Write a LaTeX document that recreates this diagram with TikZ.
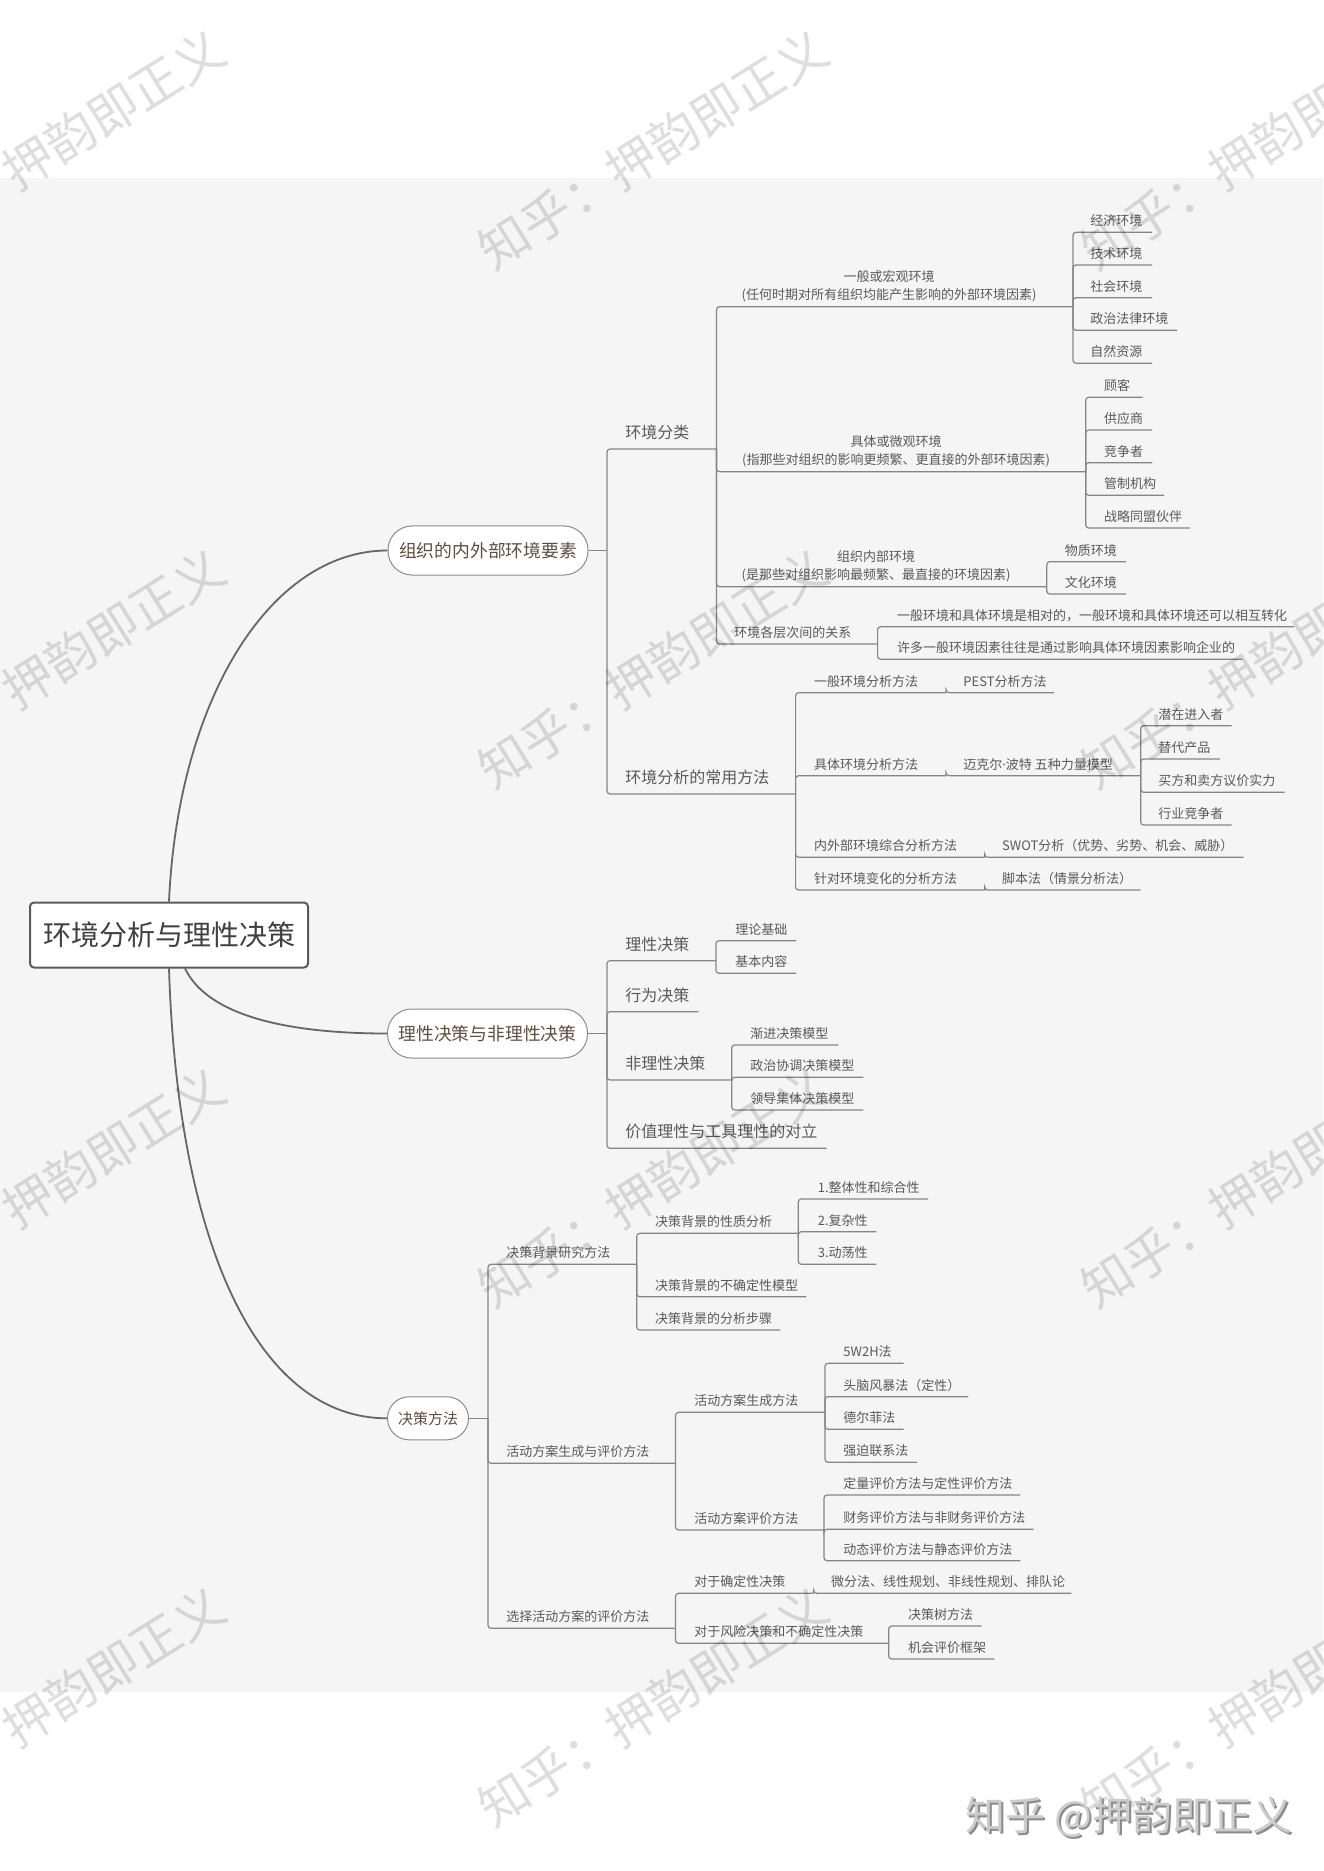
\documentclass[tikz,border=0pt]{standalone}
\usepackage{fontspec}
\setmainfont{Noto Sans CJK SC}
\newfontfamily\latinfont{Noto Sans}
\definecolor{bgc}{HTML}{F5F5F5}
\definecolor{txtc}{HTML}{595959}
\definecolor{pilltxt}{HTML}{5E4F3F}
\definecolor{pillc}{HTML}{8C8C8C}
\definecolor{linec}{HTML}{858585}
\definecolor{curvec}{HTML}{666666}
\definecolor{rootc}{HTML}{5A5A5A}
\definecolor{roottxt}{HTML}{404040}
\tikzset{
  txt/.style={inner sep=0pt, text=txtc, anchor=base west},
  smalltxt/.style={txt, font=\fontsize{6.5pt}{8.65pt}\selectfont},
  medtxt/.style={txt, font=\fontsize{8pt}{9.6pt}\selectfont},
  pill/.style={draw=pillc, fill=white, rounded corners=12pt, line width=0.5pt,
    text=pilltxt, minimum height=24.5pt, inner xsep=5.5pt, inner ysep=0pt,
    font=\fontsize{8.9pt}{10pt}\selectfont},
  pillsmall/.style={rounded corners=10.75pt, minimum height=21.5pt, inner xsep=5.25pt,
    font=\fontsize{7.5pt}{9pt}\selectfont},
  rootbox/.style={draw=rootc, line width=1pt, fill=white, rounded corners=2pt,
    minimum width=139pt, minimum height=32.5pt, inner sep=0pt,
    font=\fontsize{14pt}{16pt}\selectfont, text=roottxt},
  br/.style={draw=linec, line width=0.6pt, rounded corners=1.5pt},
  curve/.style={draw=curvec, line width=0.9pt},
  wm/.style={anchor=base west, rotate=32, inner sep=0pt,
    font=\fontsize{25pt}{25pt}\selectfont, text=black, text opacity=0.13},
}
% small text node: name, text x, underline y, underline end x, text
\newcommand\mmS[5]{\node[smalltxt] (#1) at ({#2},{#3-6.5}) {#5}; \coordinate (#1-e) at ({#4},{#3});}
% medium text node
\newcommand\mmM[5]{\node[medtxt] (#1) at ({#2},{#3-10.5}) {#5}; \coordinate (#1-e) at ({#4},{#3});}
% two-line centred small node: name, centre x, underline y, underline end x, text
\newcommand\mmT[5]{\node[smalltxt, anchor=south, align=center] (#1) at ({#2},{#3-4.5}) {#5}; \coordinate (#1-e) at ({#4},{#3});}
% connector parent -> child
\newcommand\mmL[2]{\draw[br] (#1-e) |- (#2-e);}

\begin{document}
\begin{tikzpicture}[x=0.5pt,y=-0.5pt]
\useasboundingbox (0,0) rectangle (1323,1871);
\fill[white] (0,0) rectangle (1323,1871);
\fill[bgc] (0,178) rectangle (1323,1692);

% ---------- root and main branches ----------
\coordinate (Rc) at (169,935);
\coordinate (Ac) at (488,550.5);
\coordinate (Bc) at (487.5,1033.5);
\coordinate (Cc) at (428,1418.3);
\path (Rc) node[rootbox, draw=none, fill=none, text opacity=0] (R) {环境分析与理性决策};
\path (Ac) node[pill, draw=none, fill=none, text opacity=0] (A) {组织的内外部环境要素};
\path (Bc) node[pill, draw=none, fill=none, text opacity=0] (B) {理性决策与非理性决策};
\path (Cc) node[pill, pillsmall, draw=none, fill=none, text opacity=0] (C) {决策方法};

\draw[curve] (R.north) .. controls (178,700) and (270,550.5) .. (A.west);
\draw[curve] ([xshift=8pt]R.south) .. controls (210,1020) and (300,1033.5) .. (B.west);
\draw[curve] (R.south) .. controls (178,1250) and (260,1418.3) .. (C.west);

\node[rootbox] (Rv) at (Rc) {环境分析与理性决策};
\node[pill] (Av) at (Ac) {组织的内外部环境要素};
\node[pill] (Bv) at (Bc) {理性决策与非理性决策};
\node[pill, pillsmall] (Cv) at (Cc) {决策方法};

\coordinate (A-e) at (607,550.5);
\coordinate (B-e) at (607,1033.5);
\coordinate (C-e) at (488,1418.3);
\draw[br] (A.east) -- (A-e);
\draw[br] (B.east) -- (B-e);
\draw[br] (C.east) -- (C-e);

% ---------- branch A ----------
\mmM{a1}{625}{449}{716.5}{环境分类}
\mmM{a2}{625}{794}{795.6}{环境分析的常用方法}
\mmL{A}{a1} \mmL{A}{a2}

\mmT{a11}{889}{306.7}{1073}{一般或宏观环境\\(任何时期对所有组织均能产生影响的外部环境因素)}
\mmT{a12}{896}{471.7}{1085.7}{具体或微观环境\\(指那些对组织的影响更频繁、更直接的外部环境因素)}
\mmT{a13}{876}{586.7}{1046.8}{组织内部环境\\(是那些对组织影响最频繁、最直接的环境因素)}
\mmS{a14}{734}{644}{877.6}{环境各层次间的关系}
\mmL{a1}{a11} \mmL{a1}{a12} \mmL{a1}{a13} \mmL{a1}{a14}

\mmS{a111}{1090}{232.3}{1152}{经济环境}
\mmS{a112}{1090}{265}{1152}{技术环境}
\mmS{a113}{1090}{297.7}{1152}{社会环境}
\mmS{a114}{1090}{330.3}{1177}{政治法律环境}
\mmS{a115}{1090}{363.3}{1152}{自然资源}
\mmL{a11}{a111} \mmL{a11}{a112} \mmL{a11}{a113} \mmL{a11}{a114} \mmL{a11}{a115}

\mmS{a121}{1103.7}{397.3}{1142.6}{顾客}
\mmS{a122}{1103.7}{430}{1152}{供应商}
\mmS{a123}{1103.7}{462.7}{1152}{竞争者}
\mmS{a124}{1103.7}{495.3}{1164}{管制机构}
\mmS{a125}{1103.7}{528}{1190}{战略同盟伙伴}
\mmL{a12}{a121} \mmL{a12}{a122} \mmL{a12}{a123} \mmL{a12}{a124} \mmL{a12}{a125}

\mmS{a131}{1064.4}{561.7}{1126}{物质环境}
\mmS{a132}{1064.4}{594}{1126}{文化环境}
\mmL{a13}{a131} \mmL{a13}{a132}

\mmS{a141}{896.6}{626.7}{1294}{一般环境和具体环境是相对的，一般环境和具体环境还可以相互转化}
\mmS{a142}{896.6}{659.3}{1242}{许多一般环境因素往往是通过影响具体环境因素影响企业的}
\mmL{a14}{a141} \mmL{a14}{a142}

\mmS{a21}{813.6}{692.7}{946}{一般环境分析方法}
\mmS{a22}{813.6}{775.7}{946}{具体环境分析方法}
\mmS{a23}{813.6}{857.3}{984.8}{内外部环境综合分析方法}
\mmS{a24}{813.6}{890}{984.8}{针对环境变化的分析方法}
\mmL{a2}{a21} \mmL{a2}{a22} \mmL{a2}{a23} \mmL{a2}{a24}

\mmS{a211}{963}{692.7}{1054}{PEST分析方法}
\mmS{a221}{963}{775.7}{1140.7}{迈克尔{\latinfont ·}波特 五种力量模型}
\mmS{a231}{1001.8}{857.3}{1243.5}{SWOT分析（优势、劣势、机会、威胁）}
\mmS{a241}{1001.8}{890}{1140.7}{脚本法（情景分析法）}
\mmL{a21}{a211} \mmL{a22}{a221} \mmL{a23}{a231} \mmL{a24}{a241}

\mmS{a2211}{1158}{725.7}{1231.7}{潜在进入者}
\mmS{a2212}{1158}{759}{1219.8}{替代产品}
\mmS{a2213}{1158}{792.3}{1284.7}{买方和卖方议价实力}
\mmS{a2214}{1158}{825}{1231.7}{行业竞争者}
\mmL{a221}{a2211} \mmL{a221}{a2212} \mmL{a221}{a2213} \mmL{a221}{a2214}

% ---------- branch B ----------
\mmM{b1}{625}{960.7}{716}{理性决策}
\mmM{b2}{625}{1011.7}{698.3}{行为决策}
\mmM{b3}{625}{1080}{731.7}{非理性决策}
\mmM{b4}{625}{1148.3}{826.7}{价值理性与工具理性的对立}
\mmL{B}{b1} \mmL{B}{b2} \mmL{B}{b3} \mmL{B}{b4}

\mmS{b11}{735}{940.7}{796}{理论基础}
\mmS{b12}{735}{973.3}{796}{基本内容}
\mmL{b1}{b11} \mmL{b1}{b12}

\mmS{b31}{750}{1045}{838.3}{渐进决策模型}
\mmS{b32}{750}{1077.3}{863.3}{政治协调决策模型}
\mmS{b33}{750}{1110}{863.3}{领导集体决策模型}
\mmL{b3}{b31} \mmL{b3}{b32} \mmL{b3}{b33}

% ---------- branch C ----------
\mmS{c1}{506}{1264.3}{636.7}{决策背景研究方法}
\mmS{c2}{506}{1463.3}{675.5}{活动方案生成与评价方法}
\mmS{c3}{506}{1628.3}{675.5}{选择活动方案的评价方法}
\mmL{C}{c1} \mmL{C}{c2} \mmL{C}{c3}

\mmS{c11}{654.6}{1233.3}{798.3}{决策背景的性质分析}
\mmS{c12}{654.6}{1296.7}{806.3}{决策背景的不确定性模型}
\mmS{c13}{654.6}{1330}{780.4}{决策背景的分析步骤}
\mmL{c1}{c11} \mmL{c1}{c12} \mmL{c1}{c13}

\mmS{c111}{817.5}{1199}{928.2}{1.整体性和综合性}
\mmS{c112}{817.5}{1231.7}{876.4}{2.复杂性}
\mmS{c113}{817.5}{1264.3}{876.4}{3.动荡性}
\mmL{c11}{c111} \mmL{c11}{c112} \mmL{c11}{c113}

\mmS{c21}{694}{1412.3}{825}{活动方案生成方法}
\mmS{c22}{694}{1530}{824}{活动方案评价方法}
\mmL{c2}{c21} \mmL{c2}{c22}

\mmS{c211}{843}{1363.3}{903.7}{5W2H法}
\mmS{c212}{843}{1396.7}{968.4}{头脑风暴法（定性）}
\mmS{c213}{843}{1429.3}{903.7}{德尔菲法}
\mmS{c214}{843}{1462.3}{917}{强迫联系法}
\mmL{c21}{c211} \mmL{c21}{c212} \mmL{c21}{c213} \mmL{c21}{c214}

\mmS{c221}{843}{1495}{1020.4}{定量评价方法与定性评价方法}
\mmS{c222}{843}{1529.3}{1033.6}{财务评价方法与非财务评价方法}
\mmS{c223}{843}{1560.7}{1020.4}{动态评价方法与静态评价方法}
\mmL{c22}{c221} \mmL{c22}{c222} \mmL{c22}{c223}

\mmS{c31}{694}{1593.3}{813.7}{对于确定性决策}
\mmS{c32}{694}{1643.3}{888.7}{对于风险决策和不确定性决策}
\mmL{c3}{c31} \mmL{c3}{c32}

\mmS{c311}{830.7}{1593.3}{1071.4}{微分法、线性规划、非线性规划、排队论}
\mmL{c31}{c311}
\mmS{c321}{907.6}{1626}{981.7}{决策树方法}
\mmS{c322}{907.6}{1659}{994.4}{机会评价框架}
\mmL{c32}{c321} \mmL{c32}{c322}

% ---------- watermarks ----------
\begin{scope}
\clip (0,0) rectangle (1323,1871);
\foreach \xx in {-110,493,1096}{
  \foreach \yy in {272,791,1310,1829}{
    \node[wm] (wm-\xx-\yy) at (\xx,\yy) {知乎：押韵即正义};
  }
}
\end{scope}
\node[font=\fontsize{20pt}{20pt}\selectfont, text=black!45, inner sep=0pt] (sig-shadow) at (1131,1819) {知乎 @押韵即正义};
\node[font=\fontsize{20pt}{20pt}\selectfont, text=black!20, inner sep=0pt] (sig) at (1129,1817) {知乎 @押韵即正义};
\end{tikzpicture}
\end{document}
